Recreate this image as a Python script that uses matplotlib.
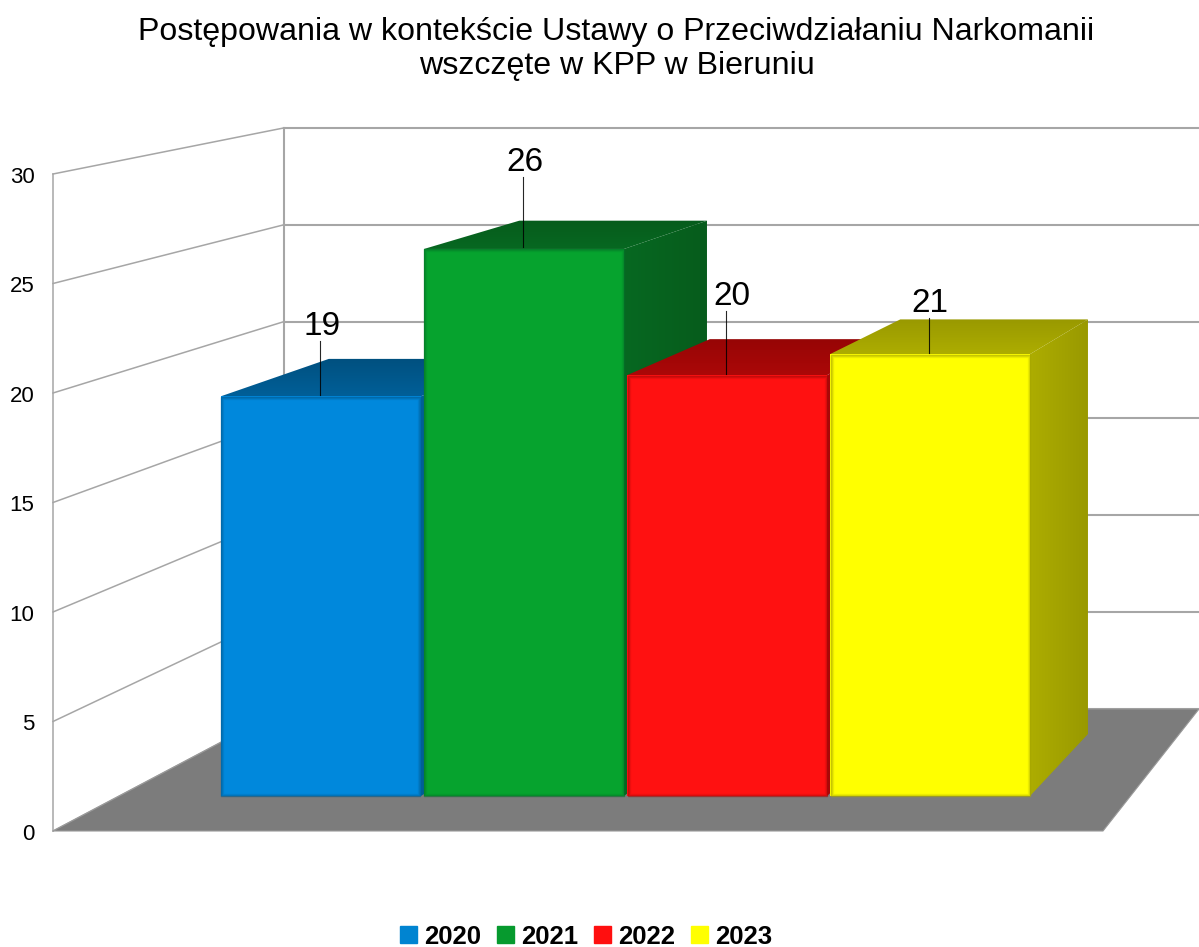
import numpy as np
import matplotlib
matplotlib.use("Agg")
import matplotlib.pyplot as plt
from matplotlib.patches import Polygon, Patch, Rectangle
from matplotlib.colors import to_rgb

# ---- data ----
categories = ["2020", "2021", "2022", "2023"]
values = [19, 26, 20, 21]
y_ticks = [0, 5, 10, 15, 20, 25, 30]
title_lines = ["Postępowania w kontekście Ustawy o Przeciwdziałaniu Narkomanii",
               "wszczęte w KPP w Bieruniu"]

# ---- style ----
legend_colors = ["#0084d1", "#069a2e", "#ff0f0f", "#ffff00"]
front_colors = ["#0088dc", "#06a32e", "#ff1111", "#ffff00"]
side_near = ["#005f98", "#076821", "#ab0808", "#adad00"]
side_far = ["#00507f", "#065c1c", "#960505", "#999900"]
edge_colors = ["#005a90", "#05702a", "#a80a0a", "#a8a800"]
GRID = "#a6a6a6"
FLOOR = "#7c7c7c"

# ---- layout (pixels of the 1199x947 canvas) ----
W, H = 1199, 947
X0, Y0 = 321.0, 796.0      # pixel of category 0 / value 0 in the bars' front plane
PX_X, PX_Y = 203.0, 21.04  # pixels per category / per unit
BAR_W = 200 / PX_X
label_gap = [55, 72, 64, 36]   # leader length above the bar, px
label_dx = [2, 2, 6, 1]
VP_X, VP_Y, DEPTH = 1971.0, -210.0, 0.0616
WALL_L, WALL_R = 53.0, 284.0
FLOOR_F, FLOOR_B = 831.0, 709.0
SCALE_F, SCALE_B = 21.9, 19.37
FLOOR_FR_X, FLOOR_BR_X = 1103.0, 1199.0


def dx(px):
    return (px - X0) / PX_X


def dy(px):
    return (Y0 - px) / PX_Y


def back(x, v):
    """Project a front-plane point (category position, value) to the bar's back plane."""
    px, py = X0 + x * PX_X, Y0 - v * PX_Y
    return dx(px + DEPTH * (VP_X - px)), dy(py + DEPTH * (VP_Y - py))


plt.rcParams["font.family"] = ["Liberation Sans", "DejaVu Sans"]
fig = plt.figure(figsize=(W / 100, H / 100), dpi=100)
ax = fig.add_axes([0, 0, 1, 1])
ax.axis("off")
XLIM, YLIM = (dx(0), dx(W)), (dy(H), dy(0))


def gradient_poly(pts, c0, c1, horizontal, z):
    xs, ys = zip(*pts)
    c0, c1 = np.array(to_rgb(c0)), np.array(to_rgb(c1))
    t = np.linspace(0, 1, 64)
    col = c0[None, :] * (1 - t[:, None]) + c1[None, :] * t[:, None]
    img = col[None, :, :] if horizontal else col[:, None, :]
    im = ax.imshow(img, extent=(min(xs), max(xs), min(ys), max(ys)), origin="lower",
                   aspect="auto", interpolation="bilinear", zorder=z)
    poly = Polygon(pts, closed=True, transform=ax.transData, fc="none", ec="none")
    ax.add_patch(poly)
    im.set_clip_path(poly)


# walls and grid
for v in y_ticks:
    yf, yb = dy(FLOOR_F - v * SCALE_F), dy(FLOOR_B - v * SCALE_B)
    ax.plot([dx(WALL_L), dx(WALL_R)], [yf, yb], color=GRID, lw=1.1, zorder=1)
    ax.plot([dx(WALL_R), dx(W)], [yb, yb], color=GRID, lw=1.5, zorder=1)
    ax.text(dx(34.5), dy(FLOOR_F - v * SCALE_F + 0.5), str(v), ha="right",
            va="center_baseline", fontsize=16, color="black")
ax.plot([dx(WALL_L)] * 2, [dy(FLOOR_F), dy(FLOOR_F - 30 * SCALE_F)], color=GRID, lw=1.1, zorder=1)
ax.plot([dx(WALL_R)] * 2, [dy(FLOOR_B), dy(FLOOR_B - 30 * SCALE_B)], color=GRID, lw=1.5, zorder=1)

# floor
ax.add_patch(Polygon([(dx(WALL_L), dy(FLOOR_F)), (dx(FLOOR_FR_X), dy(FLOOR_F)),
                      (dx(FLOOR_BR_X), dy(FLOOR_B)), (dx(WALL_R), dy(FLOOR_B))],
                     closed=True, fc=FLOOR, ec="#9a9a9a", lw=0.8, zorder=2))

# bars, left to right so each overlaps the previous one
for i, v in enumerate(values):
    z = 3 + i
    xl, xr = i - BAR_W / 2, i + BAR_W / 2
    side = [(xr, 0), back(xr, 0), back(xr, v), (xr, v)]
    top = [(xl, v), (xr, v), back(xr, v), back(xl, v)]
    gradient_poly(side, side_near[i], side_far[i], True, z + 0.1)
    gradient_poly(top, side_near[i], side_far[i], False, z + 0.2)
    ax.bar(i, v, width=BAR_W, color=front_colors[i], zorder=z + 0.3, label=categories[i])
    # soft bevel round the front face
    for inset, alpha in zip((0.5, 1.5, 2.5), (0.6, 0.35, 0.15)):
        ix, iy = inset / PX_X, inset / PX_Y
        ax.add_patch(Rectangle((xl + ix, iy), BAR_W - 2 * ix, v - 2 * iy, fc="none",
                               ec=edge_colors[i], lw=1.0, alpha=alpha,
                               joinstyle="round", zorder=z + 0.4))

# value labels with leader lines
for i, v in enumerate(values):
    x = i - 1 / PX_X
    y_top = v + label_gap[i] / PX_Y
    ax.plot([x, x], [v + 1.5 / PX_Y, y_top], color="black", lw=0.8, alpha=0.85, zorder=10)
    ax.text(x + label_dx[i] / PX_X, y_top - 1 / PX_Y, str(v), ha="center", va="bottom",
            fontsize=24, color="black", zorder=11)

# title
ax.text(dx(616), dy(32), title_lines[0], ha="center", va="center", fontsize=23.1, color="black")
ax.text(dx(617), dy(66), title_lines[1], ha="center", va="center", fontsize=23.1, color="black")

# legend
handles = [Patch(color=c, label=n) for c, n in zip(legend_colors, categories)]
ax.legend(handles=handles, ncol=4, frameon=False, loc="center",
          bbox_to_anchor=(586 / W, 1 - 936.5 / H), bbox_transform=fig.transFigure,
          prop={"weight": "bold", "size": 18.5}, handlelength=0.66, handleheight=0.66,
          handletextpad=0.28, columnspacing=0.62, borderpad=0, labelspacing=0)

ax.set_xlim(*XLIM)
ax.set_ylim(*YLIM)
fig.savefig("out.png", dpi=100, facecolor="white")
